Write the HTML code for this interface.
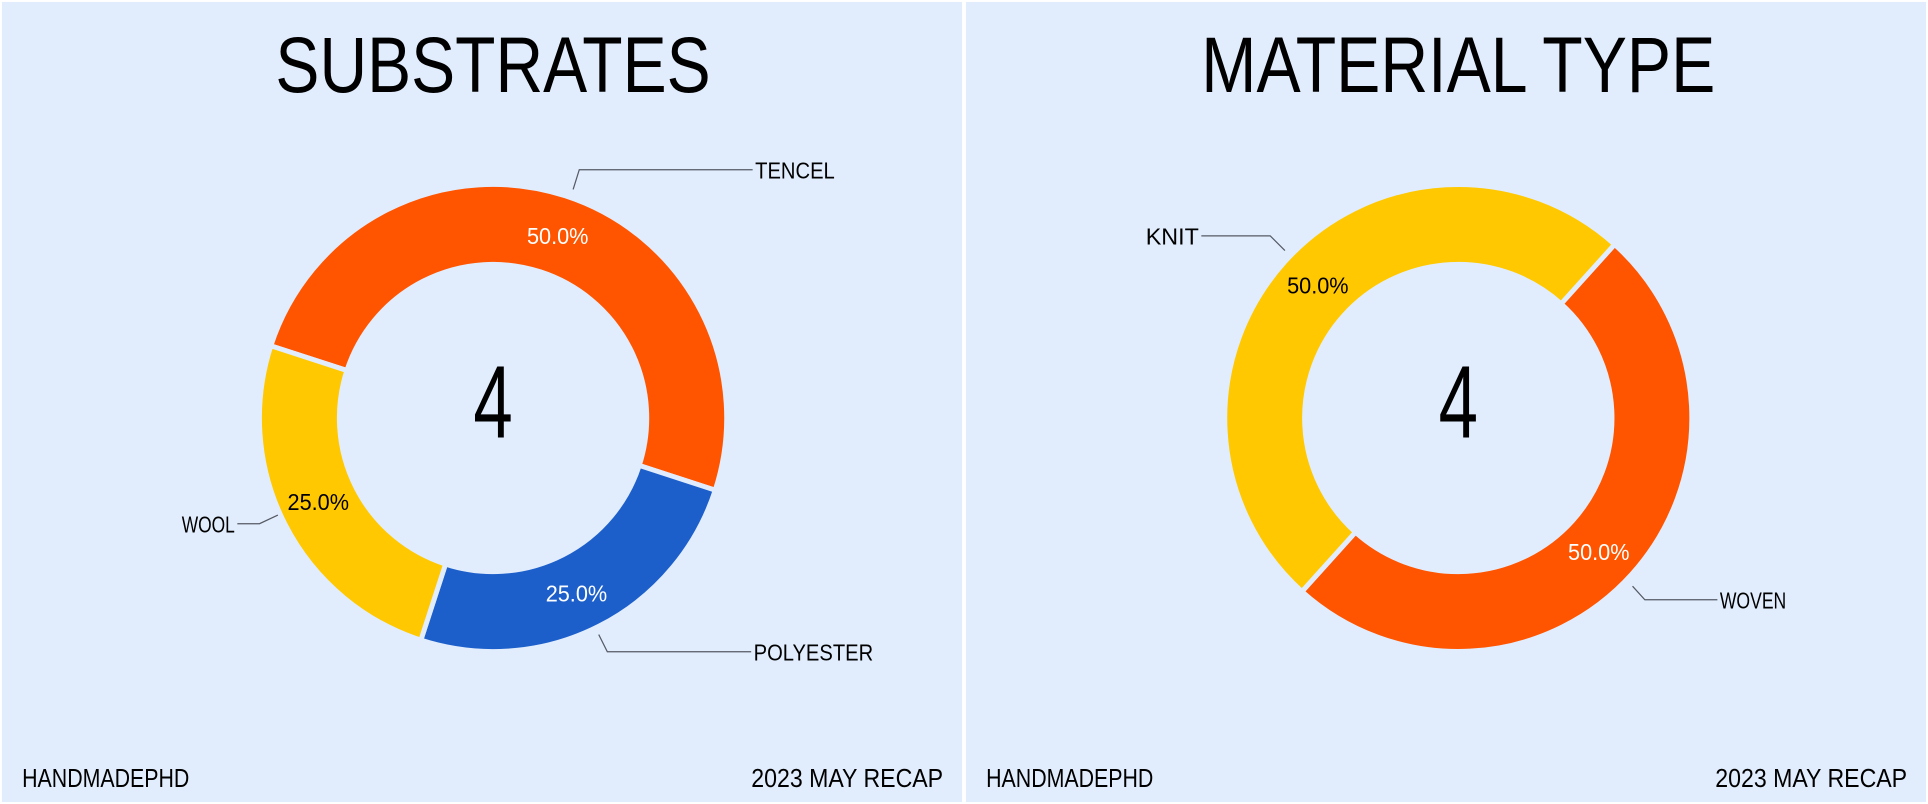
<!DOCTYPE html>
<html><head><meta charset="utf-8"><style>
html,body{margin:0;padding:0;background:#fff;}
svg{display:block;}
text{font-family:"Liberation Sans",sans-serif;}
</style></head><body>
<svg id="chart" width="1928" height="804" viewBox="0 0 1568 654" preserveAspectRatio="none" xmlns="http://www.w3.org/2000/svg">
<rect x="0" y="0" width="1568" height="654" fill="#ffffff"/>
<rect x="1.6" y="1.6" width="780.8" height="650.8" fill="#e1edfd"/>
<rect x="785.6" y="1.6" width="780.8" height="650.8" fill="#e1edfd"/>
<text x="401" y="75" font-size="64" text-anchor="middle" textLength="354" lengthAdjust="spacingAndGlyphs">SUBSTRATES</text>
<text x="1186" y="75" font-size="64" text-anchor="middle" textLength="418" lengthAdjust="spacingAndGlyphs">MATERIAL TYPE</text>
<text x="401" y="356" font-size="84" text-anchor="middle" textLength="32" lengthAdjust="spacingAndGlyphs">4</text>
<text x="1186" y="356" font-size="84" text-anchor="middle" textLength="32" lengthAdjust="spacingAndGlyphs">4</text>
<text x="18" y="640" font-size="21" textLength="136" lengthAdjust="spacingAndGlyphs">HANDMADEPHD</text>
<text x="767" y="640" font-size="21" text-anchor="end" textLength="156" lengthAdjust="spacingAndGlyphs">2023 MAY RECAP</text>
<text x="802" y="640" font-size="21" textLength="136" lengthAdjust="spacingAndGlyphs">HANDMADEPHD</text>
<text x="1551" y="640" font-size="21" text-anchor="end" textLength="156" lengthAdjust="spacingAndGlyphs">2023 MAY RECAP</text>
<g id="plots"></g>
</svg>
<script>
const subCategories = ["TENCEL","POLYESTER","WOOL"];
const subValues = [2,1,1];
const subColors = ["#ff5500","#1c5fcb","#ffc800"];
const subLabelColors = ["#ffffff","#ffffff","#000000"];
const matCategories = ["WOVEN","KNIT"];
const matValues = [1,1];
const matColors = ["#ff5500","#ffc800"];
const matLabelColors = ["#ffffff","#000000"];

const NS="http://www.w3.org/2000/svg";
const plots=document.getElementById('plots');
function mk(tag,attrs){const e=document.createElementNS(NS,tag);for(const k in attrs)e.setAttribute(k,attrs[k]);return e;}
function pt(cx,cy,r,a){const t=a*Math.PI/180;return [cx+r*Math.sin(t),cy-r*Math.cos(t)];}
function donut(prefix,cx,cy,startDeg,cats,vals,colors,lblColors,callouts){
  const R=190,r=125,total=vals.reduce((a,b)=>a+b,0);
  let a0=startDeg;
  vals.forEach((v,i)=>{
    const span=v/total*360,a1=a0+span,large=span>180?1:0;
    const p1=pt(cx,cy,R,a0),p2=pt(cx,cy,R,a1),p3=pt(cx,cy,r,a1),p4=pt(cx,cy,r,a0);
    const d=`M${p1[0]},${p1[1]} A${R},${R} 0 ${large} 1 ${p2[0]},${p2[1]} L${p3[0]},${p3[1]} A${r},${r} 0 ${large} 0 ${p4[0]},${p4[1]} Z`;
    const path=mk('path',{d:d,fill:colors[i],stroke:'#e1edfd','stroke-width':4});
    
    
    plots.appendChild(path);
    const mid=a0+span/2;
    const lp=pt(cx,cy,(R+r)/2,mid+1.5);
    const t=mk('text',{x:lp[0],y:lp[1]+7,'font-size':19,'text-anchor':'middle',fill:lblColors[i],textLength:50,lengthAdjust:'spacingAndGlyphs'});
    t.textContent=(v/total*100).toFixed(1)+'%';
    
    
    plots.appendChild(t);
    const c=callouts[i];
    const e1=pt(cx,cy,c.r1,mid+c.off);
    const ex=e1[0]+c.dx, ey=e1[1]+c.dy;
    const side=ex>cx?1:-1;
    const hx=ex+side*c.len;
    const line=mk('polyline',{points:`${e1[0]},${e1[1]} ${ex},${ey} ${hx},${ey}`,fill:'none',stroke:'#555a64','stroke-width':1});
    
    
    plots.appendChild(line);
    const lt=mk('text',{x:side>0?hx+2:hx-2,y:ey+7,'font-size':19,'text-anchor':side>0?'start':'end',textLength:cats[i].length*10.8,lengthAdjust:'spacingAndGlyphs'});
    lt.textContent=cats[i];
    
    
    plots.appendChild(lt);
    a0=a1;
  });
}
donut('substrates',401,340,-72,subCategories,subValues,subColors,subLabelColors,
  [{off:1.3,r1:197,dx:5,dy:-16,len:141},{off:1,r1:196,dx:7,dy:14,len:117},{off:2.7,r1:192,dx:-15,dy:7,len:18}]);
donut('material',1186,340,42,matCategories,matValues,matColors,matLabelColors,
  [{off:2,r1:197,dx:10,dy:11,len:59},{off:2,r1:196,dx:-12,dy:-12,len:56}]);
</script>
</body></html>
